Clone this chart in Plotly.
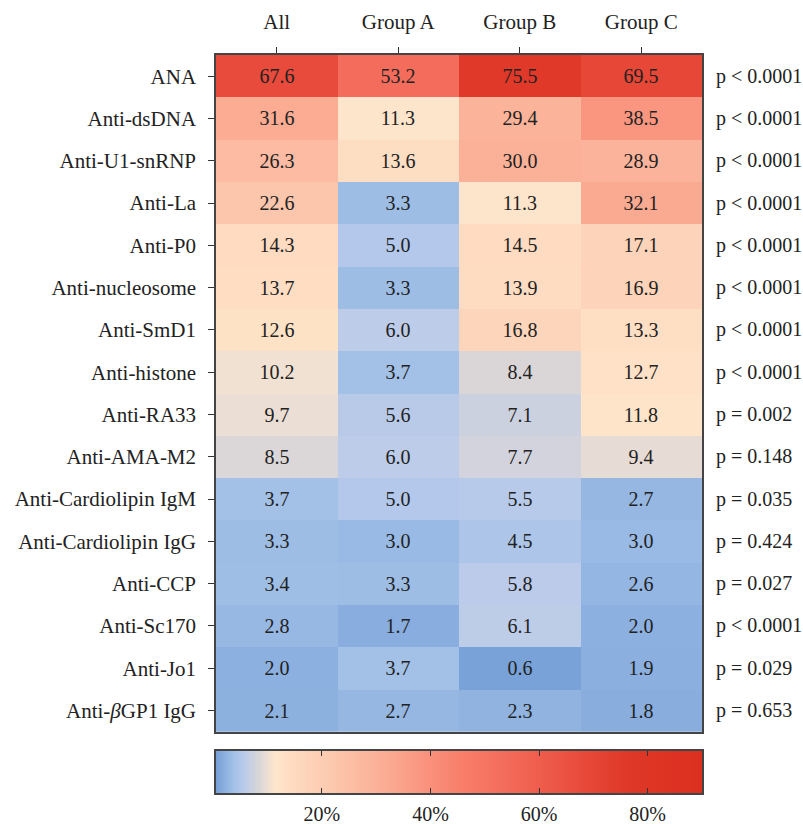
import plotly.graph_objects as go

groups = ["All", "Group A", "Group B", "Group C"]
antibodies = ["ANA", "Anti-dsDNA", "Anti-U1-snRNP", "Anti-La", "Anti-P0", "Anti-nucleosome",
              "Anti-SmD1", "Anti-histone", "Anti-RA33", "Anti-AMA-M2", "Anti-Cardiolipin IgM",
              "Anti-Cardiolipin IgG", "Anti-CCP", "Anti-Sc170", "Anti-Jo1", "Anti-<i>β</i>GP1 IgG"]
values = [
    [67.6, 53.2, 75.5, 69.5],
    [31.6, 11.3, 29.4, 38.5],
    [26.3, 13.6, 30.0, 28.9],
    [22.6, 3.3, 11.3, 32.1],
    [14.3, 5.0, 14.5, 17.1],
    [13.7, 3.3, 13.9, 16.9],
    [12.6, 6.0, 16.8, 13.3],
    [10.2, 3.7, 8.4, 12.7],
    [9.7, 5.6, 7.1, 11.8],
    [8.5, 6.0, 7.7, 9.4],
    [3.7, 5.0, 5.5, 2.7],
    [3.3, 3.0, 4.5, 3.0],
    [3.4, 3.3, 5.8, 2.6],
    [2.8, 1.7, 6.1, 2.0],
    [2.0, 3.7, 0.6, 1.9],
    [2.1, 2.7, 2.3, 1.8],
]
p_values = ["p < 0.0001", "p < 0.0001", "p < 0.0001", "p < 0.0001", "p < 0.0001", "p < 0.0001",
            "p < 0.0001", "p < 0.0001", "p = 0.002", "p = 0.148", "p = 0.035", "p = 0.424",
            "p = 0.027", "p < 0.0001", "p = 0.029", "p = 0.653"]
cbar_tickvals = [20, 40, 60, 80]
cbar_ticktext = ["20%", "40%", "60%", "80%"]

ZMIN, ZMAX = 0.5, 90.0
stops = [
    (0.5, "#77a1d8"), (2.0, "#8cb0df"), (3.5, "#a0bfe6"), (5.0, "#b3c8eb"),
    (6.0, "#bdcce8"), (7.0, "#cbd1e0"), (8.5, "#dbd6d7"), (10.0, "#efe0d3"),
    (11.5, "#fee6ca"), (14.0, "#fedcc2"), (17.0, "#fdd4b9"), (22.6, "#fcc6ac"),
    (31.0, "#fbae95"), (38.5, "#fa9580"), (45.0, "#f8806c"), (53.0, "#f46d5c"),
    (60.0, "#ef5d4c"), (68.0, "#e84a3a"), (76.0, "#df3828"), (90.0, "#dc2f20"),
]
colorscale = [[(v - ZMIN) / (ZMAX - ZMIN), c] for v, c in stops]

FONT = "Liberation Serif"
FS = 20
FS_LABEL = 21
TXT = "#222"

fig = go.Figure()

# main heatmap
fig.add_trace(go.Heatmap(
    z=values, x=groups, y=antibodies,
    zmin=ZMIN, zmax=ZMAX, colorscale=colorscale, showscale=False,
    texttemplate="%{z:.1f}", textfont=dict(family=FONT, size=FS, color=TXT),
    hoverinfo="skip", xaxis="x", yaxis="y",
))

# colour legend drawn as a smooth gradient between the scale's two ends
fig.add_trace(go.Heatmap(
    z=[[ZMIN, ZMAX], [ZMIN, ZMAX]], x=[ZMIN, ZMAX], y=[0, 1],
    zmin=ZMIN, zmax=ZMAX, colorscale=colorscale, showscale=False,
    zsmooth="best", hoverinfo="skip", xaxis="x2", yaxis="y2",
))

for ab, p in zip(antibodies, p_values):
    fig.add_annotation(x=1, xref="paper", y=ab, yref="y", text=p, showarrow=False,
                       xanchor="left", xshift=12,
                       font=dict(family=FONT, size=FS, color=TXT))

H_TOP, H_BOT = 55, 31
paper_h = 824 - H_TOP - H_BOT
main_bottom = (824 - H_BOT - 731.7) / paper_h
cb_top = (824 - H_BOT - 751) / paper_h

def axis_common(size):
    return dict(showline=True, linecolor="#444", linewidth=1.5,
                showgrid=False, zeroline=False,
                tickfont=dict(family=FONT, size=size, color=TXT))

fig.update_layout(
    width=803, height=824,
    margin=dict(l=216, r=101, t=H_TOP, b=H_BOT, autoexpand=False),
    paper_bgcolor="white", plot_bgcolor="white",
    font=dict(family=FONT, size=FS, color=TXT),
    xaxis=dict(side="top", ticks="outside", ticklen=6, tickcolor="#333", tickwidth=1.2,
               ticklabelstandoff=10, automargin=False, anchor="y", mirror=True,
               **axis_common(FS_LABEL)),
    yaxis=dict(domain=[main_bottom, 1], autorange="reversed", ticks="outside", ticklen=6,
               tickcolor="#333", tickwidth=1.2, ticklabelstandoff=8, automargin=False,
               anchor="x", mirror=True, **axis_common(FS_LABEL)),
    xaxis2=dict(range=[ZMIN, ZMAX], tickvals=cbar_tickvals, ticktext=cbar_ticktext,
                ticks="inside", ticklen=5, tickcolor="#333", tickwidth=1.2,
                ticklabelstandoff=2, automargin=False, anchor="y2", mirror="ticks",
                **axis_common(FS)),
    yaxis2=dict(domain=[0, cb_top], range=[0, 1], showticklabels=False, ticks="",
                automargin=False, anchor="x2", mirror=True, **axis_common(FS)),
)

fig.write_html("out.html", config={"displayModeBar": False},
               post_script="document.body.style.margin='0';document.body.style.overflow='hidden';")
